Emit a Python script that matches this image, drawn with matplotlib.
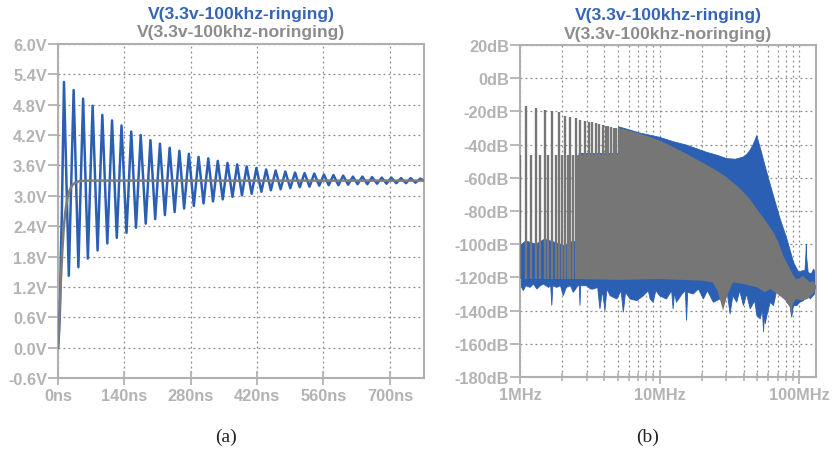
import numpy as np
import matplotlib
matplotlib.use("Agg")
import matplotlib.pyplot as plt
from matplotlib.ticker import FixedLocator, NullFormatter

# ---------------- data: panel (a) time domain ----------------
title_ringing = "V(3.3v-100khz-ringing)"
title_noringing = "V(3.3v-100khz-noringing)"

start_t = [0, 2, 4, 6, 8]
start_v = [0.0, 0.25, 0.7, 1.8, 2.6]

peak_t = [12.6, 33, 53, 73, 93.5, 114, 134, 154.5, 174.5, 195, 215, 235.5, 256, 276,
          296.5, 317, 337, 357.5, 378, 398, 418.5, 439, 459, 479.5, 500, 520, 540.5,
          561, 581, 601.5, 622, 642, 662.5, 683, 703, 723.5, 744, 764]
peak_v = [5.25, 5.09, 4.92, 4.78, 4.60, 4.49, 4.39, 4.27, 4.20, 4.10, 4.03, 3.95, 3.89, 3.83,
          3.77, 3.74, 3.69, 3.65, 3.62, 3.58, 3.55, 3.52, 3.50, 3.48, 3.46, 3.45, 3.44,
          3.42, 3.41, 3.40, 3.38, 3.38, 3.37, 3.36, 3.36, 3.35, 3.35, 3.34]
trough_t = [22.8, 43, 63, 83.5, 104, 124, 144.5, 164.5, 185, 205, 225.5, 246, 266, 286.5,
            307, 327, 347.5, 368, 388, 408.5, 429, 449, 469.5, 490, 510, 530.5, 551, 571,
            591.5, 612, 632, 652.5, 673, 693, 713.5, 734, 754]
trough_v = [1.42, 1.59, 1.76, 1.92, 2.06, 2.17, 2.27, 2.37, 2.45, 2.54, 2.62, 2.68, 2.75, 2.80,
            2.85, 2.89, 2.93, 2.98, 3.01, 3.04, 3.08, 3.11, 3.13, 3.15, 3.17, 3.18, 3.20, 3.21,
            3.21, 3.22, 3.23, 3.23, 3.24, 3.24, 3.25, 3.25, 3.26]
end_t = [772]
end_v = [3.30]

noring_t = [0, 3, 6, 9, 12, 15, 18, 21, 25, 30, 36, 45, 60, 772]
noring_v = [0.0, 0.6, 1.3, 1.9, 2.35, 2.65, 2.85, 3.0, 3.12, 3.21, 3.26, 3.29, 3.30, 3.30]

time_ticks = [0, 140, 280, 420, 560, 700]
time_labels = ["0ns", "140ns", "280ns", "420ns", "560ns", "700ns"]
volt_ticks = [-0.6, 0.0, 0.6, 1.2, 1.8, 2.4, 3.0, 3.6, 4.2, 4.8, 5.4, 6.0]
volt_labels = ["-0.6V", "0.0V", "0.6V", "1.2V", "1.8V", "2.4V", "3.0V", "3.6V",
               "4.2V", "4.8V", "5.4V", "6.0V"]

# ---------------- data: panel (b) spectrum (MHz, dB) ----------------
odd_harm_f = [1.1, 1.3, 1.5, 1.7, 1.9, 2.1, 2.3, 2.5, 2.7, 2.9, 3.1, 3.3, 3.5, 3.7,
              3.9, 4.1, 4.3, 4.5, 4.7, 4.9, 5.1]
odd_harm_db = [-17.0, -18.1, -19.2, -19.8, -20.6, -22.6, -23.6, -24.2, -25.0, -25.6, -26.2,
               -26.6, -27.2, -27.6, -28.2, -28.6, -29.0, -29.4, -29.8, -30.2, -30.4]
even_harm_f = [1.0, 1.2, 1.4, 1.6, 1.8, 2.0, 2.2, 2.4, 2.6]
even_harm_db = [-46, -46, -46, -46, -46, -46, -46, -46, -46]
harm_floor_db = -121

blue_top_f = [1.0, 1.1, 1.3, 1.5, 1.8, 2.1, 2.4, 2.65, 2.65, 5.1, 5.1, 6, 7.2, 8.5, 10,
              12.6, 15.6, 18.5, 21.7, 26, 30.1, 35, 39.8, 42, 44.4, 46.5, 48.5, 49.7,
              50.8, 52.5, 55, 58.6, 65.4, 73.1, 81.7, 91.1, 96.3, 100, 105, 110, 111.8,
              112.5, 113.2, 116, 122, 127, 132]
blue_top_db = [-101, -98, -100, -97, -99, -101, -98, -100, -45.3, -45.3, -29.3, -31, -33,
               -34.3, -35.6, -38.3, -40.3, -42.5, -44.6, -46.5, -48.4, -48.8, -47.5, -46,
               -43.5, -40.5, -37, -34.5, -37.5, -41.6, -48, -56.7, -70.8, -84.8, -96.9,
               -110.9, -115, -117, -116, -116, -106, -100, -108, -117, -118, -115, -118]

blue_floor_f = [1.0, 1.056, 1.1, 1.18, 1.25, 1.32, 1.4, 1.47, 1.6, 1.66, 1.69, 1.72, 1.83,
                1.95, 2.04, 2.15, 2.3, 2.41, 2.6, 2.66, 2.69, 2.72, 3.0, 3.2, 3.36, 3.6,
                3.74, 3.9, 4.06, 4.2, 4.42, 4.94, 5.3, 5.5, 5.7, 6.15, 6.87, 7.67, 8.3,
                8.56, 9.0, 9.4, 10.0, 11.2, 12.2, 12.5, 12.8, 13.2, 14.5, 15.3, 15.6,
                15.9, 17.4, 19.0, 20.6, 22.0, 24.3, 27.1, 30.5, 32, 33.5, 35.7, 37.5, 39.9,
                42.0, 44.6, 48, 49.8, 52.7, 54.5, 55.6, 56.3, 57.1, 58.7, 62, 65.5, 69.0,
                73.1, 77.0, 81.6, 86, 88.4, 91, 96.2, 101, 107.4, 113.0, 119.7, 126, 132]
blue_floor_db = [-124, -128, -125, -126, -124, -127, -125, -124, -126, -125, -137, -125,
                 -126, -125, -131, -126, -125, -129, -125, -125, -137, -125, -125, -127,
                 -127, -126, -139, -128, -140, -127, -131, -133, -128, -141, -129, -133,
                 -134, -131, -128, -133, -135, -128, -131, -133, -128, -139, -129, -135,
                 -130, -128, -146, -129, -130, -127, -133, -128, -135, -133, -129, -142,
                 -131, -135, -128, -137, -130, -139, -134, -143, -145, -139, -153, -141,
                 -148, -143, -135, -137, -128, -131, -127, -135, -137, -144, -137, -137,
                 -135, -134, -128, -133, -131, -129]

gray_top_f = [2.65, 5.1, 5.1, 6, 7.2, 8.5, 10, 12.6, 15.6, 18.5, 21.7, 26, 30.1, 37.7,
              44, 49.7, 57, 65.4, 71, 76.8, 85, 91.1, 95, 101, 106, 112.5, 120, 126, 132]
gray_top_db = [-46, -46, -30, -31.5, -33.4, -35.3, -37.5, -41.6, -45.5, -49, -52.2, -56,
               -59.5, -66.5, -72.5, -78.8, -85.5, -92.8, -99, -106.9, -114, -119, -121,
               -120.5, -119, -121, -123, -122, -125]
gray_floor_f = [2.65, 5, 10, 15, 20, 24, 26, 28.5, 30.5, 33.5, 40, 50, 57, 62, 70, 80, 86,
                88, 90, 95, 105, 115, 125, 132]
gray_floor_db = [-121, -121.5, -121, -121.5, -122, -123, -128, -140, -131, -123, -124,
                 -126, -129, -127, -130, -134, -138, -143, -136, -133, -134, -133, -130, -127]

freq_ticks = [1, 10, 100]
freq_labels = ["1MHz", "10MHz", "100MHz"]
freq_minor = [2, 3, 4, 5, 6, 7, 8, 9, 20, 30, 40, 50, 60, 70, 80, 90]
db_ticks = [20, 0, -20, -40, -60, -80, -100, -120, -140, -160, -180]
db_labels = ["20dB", "0dB", "-20dB", "-40dB", "-60dB", "-80dB", "-100dB", "-120dB",
             "-140dB", "-160dB", "-180dB"]

# ---------------- style ----------------
BLUE = "#2b5fb3"
GRAY_LINE = "#7d7d7d"
GRAY_FILL = "#767676"
TICK_C = "#b3b3b3"
SPINE_C = "#b0b0b0"
GRID_C = "#8a8a8a"
TITLE_BLUE = "#3565b5"
TITLE_GRAY = "#8c8c8c"

plt.rcParams["font.family"] = ["Liberation Sans", "DejaVu Sans"]

fig = plt.figure(figsize=(8.32, 4.52), dpi=100)
W, H = 832, 452
ax1 = fig.add_axes([58 / W, 1 - 379 / H, (424 - 58) / W, (379 - 45) / H])
ax2 = fig.add_axes([520 / W, 1 - 378 / H, (816 - 520) / W, (378 - 46) / H])


def style_axes(ax):
    for s in ax.spines.values():
        s.set_color(SPINE_C)
        s.set_linewidth(1.5)
    ax.set_axisbelow(True)
    ax.grid(True, which="major", color=GRID_C, linestyle=(0, (1.5, 2.5)), linewidth=0.9)
    ax.tick_params(axis="y", which="both", direction="out", length=7, width=1.3,
                   colors=TICK_C, labelsize=11.8, pad=1)
    ax.tick_params(axis="x", which="major", direction="inout", length=10, width=1.3,
                   colors=TICK_C, labelsize=11.8, pad=2)
    for lab in ax.get_xticklabels() + ax.get_yticklabels():
        lab.set_fontweight("bold")


# ---------------- panel (a) ----------------
ext_t = np.array(peak_t + trough_t)
ext_v = np.array(peak_v + trough_v)
order = np.argsort(ext_t)
ring_t = np.concatenate([start_t, ext_t[order], end_t])
ring_v = np.concatenate([start_v, ext_v[order], end_v])

ax1.plot(ring_t, ring_v, color=BLUE, lw=1.8, zorder=3)
ax1.plot(noring_t, noring_v, color=GRAY_LINE, lw=1.8, zorder=4)
ax1.set_xlim(0, 772)
ax1.set_ylim(-0.6, 6.0)
ax1.set_xticks(time_ticks)
ax1.set_xticklabels(time_labels)
ax1.set_yticks(volt_ticks)
ax1.set_yticklabels(volt_labels)
style_axes(ax1)

# ---------------- panel (b) ----------------
ax2.set_xscale("log")
blue_poly_x = list(blue_top_f) + list(blue_floor_f[::-1])
blue_poly_y = list(blue_top_db) + list(blue_floor_db[::-1])
ax2.fill(blue_poly_x, blue_poly_y, color=BLUE, lw=0.6, edgecolor=BLUE, zorder=2)
gray_poly_x = list(gray_top_f) + list(gray_floor_f[::-1])
gray_poly_y = list(gray_top_db) + list(gray_floor_db[::-1])
ax2.fill(gray_poly_x, gray_poly_y, color=GRAY_FILL, lw=0, zorder=3)
ax2.vlines(odd_harm_f, harm_floor_db, odd_harm_db, color=GRAY_FILL, lw=1.7, zorder=4)
ax2.vlines(even_harm_f, harm_floor_db, even_harm_db, color=GRAY_FILL, lw=1.7, zorder=4)

ax2.set_xlim(1, 132)
ax2.set_ylim(-180, 20)
ax2.xaxis.set_major_locator(FixedLocator(freq_ticks))
ax2.set_xticklabels(freq_labels)
ax2.xaxis.set_minor_locator(FixedLocator(freq_minor))
ax2.xaxis.set_minor_formatter(NullFormatter())
ax2.set_yticks(db_ticks)
ax2.set_yticklabels(db_labels)
style_axes(ax2)
ax2.grid(True, which="minor", axis="x", color=GRID_C, linestyle=(0, (1.5, 2.5)), linewidth=0.9)
ax2.tick_params(axis="x", which="minor", direction="inout", length=6, width=1.2, colors=TICK_C)

# ---------------- titles & captions ----------------
for ax in (ax1, ax2):
    ax.text(0.5, 1.0 + 31 / 334, title_ringing, transform=ax.transAxes, ha="center",
            va="center", color=TITLE_BLUE, fontsize=12.6, fontweight="bold")
    ax.text(0.5, 1.0 + 12 / 334, title_noringing, transform=ax.transAxes, ha="center",
            va="center", color=TITLE_GRAY, fontsize=12.6, fontweight="bold")

fig.text(226 / W, 1 - 437 / H, "(a)", ha="center", va="center", fontsize=14,
         family=["Liberation Serif", "DejaVu Serif"], color="#222222")
fig.text(648 / W, 1 - 437 / H, "(b)", ha="center", va="center", fontsize=14,
         family=["Liberation Serif", "DejaVu Serif"], color="#222222")

fig.savefig("out.png", dpi=100)
